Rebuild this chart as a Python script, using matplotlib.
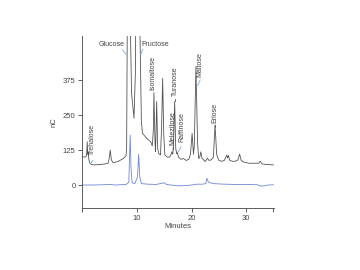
import matplotlib
matplotlib.use("Agg")
import matplotlib.pyplot as plt

plt.rcParams['font.family'] = ['Liberation Sans Narrow', 'Liberation Sans', 'DejaVu Sans']

# Black (sample) trace: time in minutes, response in nC
black_t = [0, 0.5, 0.75, 0.88, 0.97, 1.05, 1.15, 1.3, 1.6, 2.0, 3.0, 4.0, 4.7, 4.9, 5.1, 5.3, 5.6,
           6.5, 7.5, 8.0, 8.1, 8.2, 8.45, 8.75, 9.0, 9.45, 9.7, 10.1, 10.5, 10.8, 11.0, 11.8, 12.5,
           12.8, 13.0, 13.1, 13.3, 13.4, 13.5, 13.6, 13.8, 14.0, 14.3, 14.5, 14.7, 14.9, 15.1, 15.5,
           16.0, 16.3, 16.4, 16.55, 16.7, 16.9, 17.1, 17.3, 17.4, 17.6, 18.0, 18.5, 19.0, 19.5,
           19.8, 20.1, 20.35, 20.5, 20.8, 21.1, 21.3, 21.5, 21.7, 21.9, 22.5, 22.9, 23.2, 23.6,
           24.0, 24.3, 24.6, 25.0, 25.5, 26.0, 26.45, 26.6, 26.75, 27.0, 27.5, 28.0, 28.5, 28.8,
           29.1, 29.6, 30.5, 31.5, 32.3, 32.6, 32.9, 33.5, 35.0]
black_v = [101, 100, 104, 155, 110, 119, 95, 80, 74, 72, 73, 75, 78, 95, 125, 90, 80,
           84, 95, 105, 140, 500, 1500, 600, 330, 239, 400, 1500, 600, 230, 185, 167, 155,
           140, 200, 331, 150, 120, 200, 299, 130, 112, 108, 200, 382, 180, 108, 100,
           100, 112, 119, 110, 150, 299, 130, 112, 116, 100, 92, 95, 88, 92,
           110, 185, 110, 140, 424, 150, 95, 100, 119, 96, 84, 96, 88, 90,
           100, 215, 110, 88, 85, 88, 107, 97, 106, 88, 85, 85, 90, 111,
           88, 82, 78, 78, 78, 85, 76, 74, 72]

# Blue (standard) trace
blue_t = [0, 2, 4, 5, 6, 8, 8.5, 8.6, 8.75, 8.9, 9.1, 9.6, 10.1, 10.3, 10.5, 10.8, 12, 13.5,
          14, 15, 15.4, 17, 18, 19, 20, 21, 22, 22.6, 22.8, 23.1, 24, 26, 28, 30, 32, 32.8,
          33.5, 34, 35]
blue_v = [0, 0, 1, 2, 0, 2, 10, 80, 179, 60, 8, 5, 30, 110, 30, 5, 3, 2,
          4, 8, 2, -2, -3, -2, 0, 3, 3, 5, 24, 10, 5, 3, 2, 2, 1, -4,
          -3, 0, 1]

yticks = [0, 125, 250, 375]
xticks = [0, 10, 20, 30, 35]
xticklabels = ['', '10', '20', '30', '']

# label: (text, x, y, rotation, ha, va)
labels = [
    ('Glucose', 5.36, 502, 0, 'center', 'center'),
    ('Fructose', 10.73, 502, 0, 'left', 'center'),
    ('Trehalose', 1.8, 107, 90, 'center', 'bottom'),
    ('Isomaltose', 13.0, 340, 90, 'center', 'bottom'),
    ('Turanose', 16.97, 319, 90, 'center', 'bottom'),
    ('Melezitose', 16.55, 143, 90, 'center', 'bottom'),
    ('Raffinose', 18.2, 155, 90, 'center', 'bottom'),
    ('Maltose', 21.56, 388, 90, 'center', 'bottom'),
    ('Erlose', 24.3, 221, 90, 'center', 'bottom'),
]
# leader lines (x0, y0, x1, y1, color)
leaders = [
    (7.38, 484, 7.98, 468, 'blue'),
    (11.05, 486, 10.68, 468, 'blue'),
    (1.5, 78, 1.93, 88, 'blue'),
    (18.07, 137, 17.58, 119, 'blue'),
    (21.56, 376, 21.14, 356, 'blue'),
    (16.97, 302, 16.97, 309, 'dark'),
    (16.55, 130, 16.55, 136, 'dark'),
    (24.3, 208, 24.3, 214, 'dark'),
]

fig = plt.figure(figsize=(3.6, 2.7), dpi=100)
ax = fig.add_axes([0.229, 0.231, 0.532, 0.636])
ax.plot(black_t, black_v, color='#555555', lw=0.6)
ax.plot(blue_t, blue_v, color='#6f86d6', lw=0.6)

ax.set_xlim(0, 35.1)
ax.set_ylim(-81, 534)
ax.set_yticks(yticks)
ax.set_xticks(xticks)
ax.set_xticklabels(xticklabels)
for s in ['top', 'right']:
    ax.spines[s].set_visible(False)
for s in ['left', 'bottom']:
    ax.spines[s].set_linewidth(0.6)
    ax.spines[s].set_color('#444444')
ax.tick_params(labelsize=5.5, length=3, width=0.6, pad=2, colors='#444444')
ax.set_xlabel('Minutes', fontsize=5.5, labelpad=1, color='#444444')
ax.set_ylabel('nC', fontsize=5.5, labelpad=4, color='#444444')

for txt, x, y, rot, ha, va in labels:
    ax.text(x, y, txt, rotation=rot, ha=ha, va=va, fontsize=5, color='#444444')
for x0, y0, x1, y1, c in leaders:
    ax.plot([x0, x1], [y0, y1], color='#7fa6e0' if c == 'blue' else '#555555', lw=0.6)

fig.savefig('out.png', dpi=100)
